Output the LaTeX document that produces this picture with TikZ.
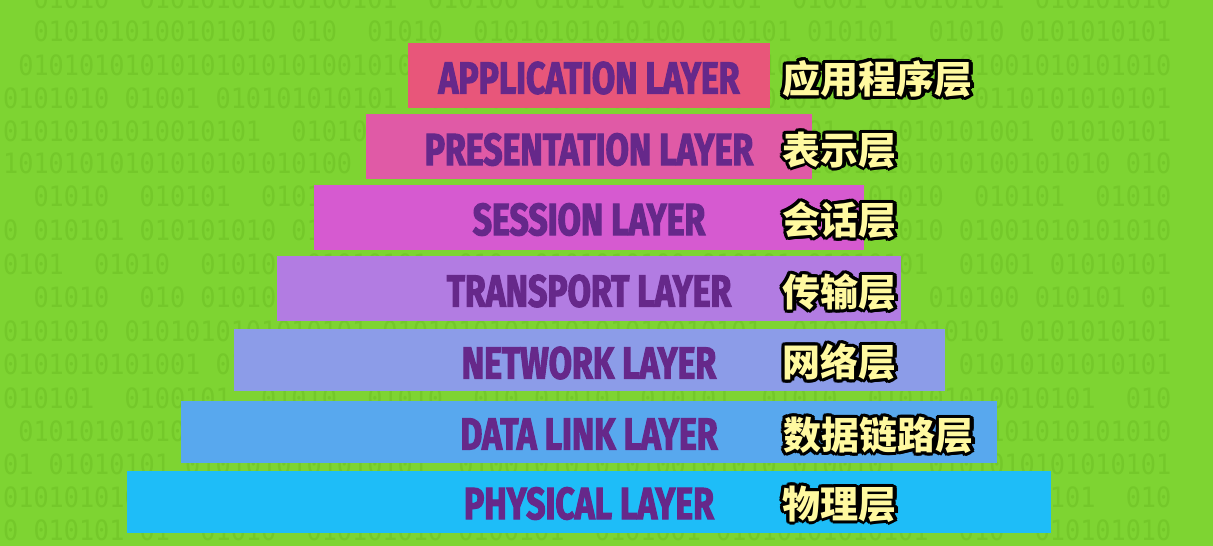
\documentclass[tikz,border=0pt]{standalone}
\usepackage{fontspec}
\newfontfamily\cjk{Noto Sans CJK SC}
\newfontfamily\eng{Fira Sans}[FakeStretch=0.75, BoldFeatures={FakeBold=2.4}]
\newfontfamily\binfont{DejaVu Sans Mono}[FakeStretch=0.9]
\definecolor{bggreen}{HTML}{7ED432}
\definecolor{digitgreen}{HTML}{74C82A}
\definecolor{cApp}{HTML}{E8567A}
\definecolor{cPre}{HTML}{E05AA6}
\definecolor{cSes}{HTML}{D65AD0}
\definecolor{cTra}{HTML}{B27CE2}
\definecolor{cNet}{HTML}{8C9CE8}
\definecolor{cDat}{HTML}{58A8EE}
\definecolor{cPhy}{HTML}{1EBDF8}
\definecolor{txtpurple}{HTML}{66288A}
\definecolor{cnyellow}{HTML}{FFF9A0}
\def\bA{01010101010}
\def\bB{~~010101010}
\def\bC{0101~~01010}
\def\bD{010101~~010}
\def\bE{~0101010101}
\def\bF{0101010~010}
\def\bG{~~01010~~01}
\def\bH{10101010101}
\def\bI{0~010101~01}
\def\bJ{01~01010101}
\tikzset{
  bindig/.style={inner sep=0, anchor=west, text=digitgreen, font=\binfont\fontsize{28}{28}\selectfont},
  layerbar/.style={inner sep=0},
  engtext/.style={inner sep=0, text=txtpurple, font=\eng\bfseries\fontsize{45}{45}\selectfont},
  cnlab/.style={inner sep=0, anchor=west, font=\cjk\bfseries\fontsize{38}{38}\selectfont}
}
\newcommand\cnlabel[3]{%
  \foreach \a in {0,30,...,330}{
    \node[cnlab, text=black, shift={(\a:3.2)}] (#1s\a) at (#2) {#3};
  }
  \foreach \a in {270,300,330,0}{
    \node[cnlab, text=black, shift={(\a:3.2)}, xshift=1.2pt, yshift=-1.2pt] (#1t\a) at (#2) {#3};
  }
  \node[cnlab, text=cnyellow] (#1) at (#2) {#3};
}
\begin{document}
\begin{tikzpicture}[x=1pt,y=-1pt]
\useasboundingbox (0,0) rectangle (1213,546);
\fill[bggreen] (0,0) rectangle (1213,546);
\node[bindig] (b0) at (3,-2) {\bG\bA\bC\bI\bD\bJ\bB};
\node[bindig] (b1) at (3,31) {\bB\bF\bG\bA\bI\bC\bE};
\node[bindig] (b2) at (3,65) {\bE\bA\bF\bH\bJ\bD\bA};
\node[bindig] (b3) at (3,98) {\bF\bJ\bC\bE\bA\bG\bH};
\node[bindig] (b4) at (3,131) {\bA\bD\bH\bF\bE\bB\bJ};
\node[bindig] (b5) at (3,163) {\bH\bA\bI\bJ\bD\bA\bF};
\node[bindig] (b6) at (3,196) {\bG\bC\bB\bD\bI\bG\bC};
\node[bindig] (b7) at (3,230) {\bI\bF\bA\bJ\bH\bF\bA};
\node[bindig] (b8) at (3,264) {\bC\bG\bD\bB\bI\bD\bJ};
\node[bindig] (b9) at (3,297) {\bG\bI\bC\bF\bG\bC\bI};
\node[bindig] (b10) at (3,331) {\bF\bH\bJ\bA\bD\bH\bE};
\node[bindig] (b11) at (3,364) {\bA\bJ\bH\bE\bA\bF\bH};
\node[bindig] (b12) at (3,398) {\bD\bC\bG\bI\bC\bB\bD};
\node[bindig] (b13) at (3,431) {\bE\bA\bF\bD\bJ\bI\bA};
\node[bindig] (b14) at (3,464) {\bJ\bE\bD\bA\bF\bC\bH};
\node[bindig] (b15) at (3,497) {\bA\bC\bJ\bF\bI\bE\bD};
\node[bindig] (b16) at (3,530) {\bI\bG\bF\bC\bJ\bD\bB};
\node[layerbar, fill=cApp, minimum width=362pt, minimum height=65pt] (app) at (589,75.5) {};
\node[layerbar, fill=cPre, minimum width=446pt, minimum height=65pt] (pre) at (589,146.5) {};
\node[layerbar, fill=cSes, minimum width=550pt, minimum height=65pt] (ses) at (589,217.5) {};
\node[layerbar, fill=cTra, minimum width=624pt, minimum height=65pt] (tra) at (589,288.5) {};
\node[layerbar, fill=cNet, minimum width=711pt, minimum height=62pt] (net) at (589.5,359.5) {};
\node[layerbar, fill=cDat, minimum width=816pt, minimum height=62pt] (dat) at (589,431.5) {};
\node[layerbar, fill=cPhy, minimum width=924pt, minimum height=62pt] (phy) at (589,501.5) {};
\node[engtext] (appt) at (589,78) {APPLICATION LAYER};
\node[engtext] (pret) at (589,149.5) {PRESENTATION LAYER};
\node[engtext] (sest) at (589,219.5) {SESSION LAYER};
\node[engtext] (trat) at (589,291) {TRANSPORT LAYER};
\node[engtext] (nett) at (589,363) {NETWORK LAYER};
\node[engtext] (datt) at (589,434) {DATA LINK LAYER};
\node[engtext] (phyt) at (589,503.5) {PHYSICAL LAYER};
\cnlabel{cnapp}{782,79}{应用程序层}
\cnlabel{cnpre}{782,150}{表示层}
\cnlabel{cnses}{782,220}{会话层}
\cnlabel{cntra}{782,292}{传输层}
\cnlabel{cnnet}{782,362}{网络层}
\cnlabel{cndat}{783,435}{数据链路层}
\cnlabel{cnphy}{782,504}{物理层}
\end{tikzpicture}
\end{document}
